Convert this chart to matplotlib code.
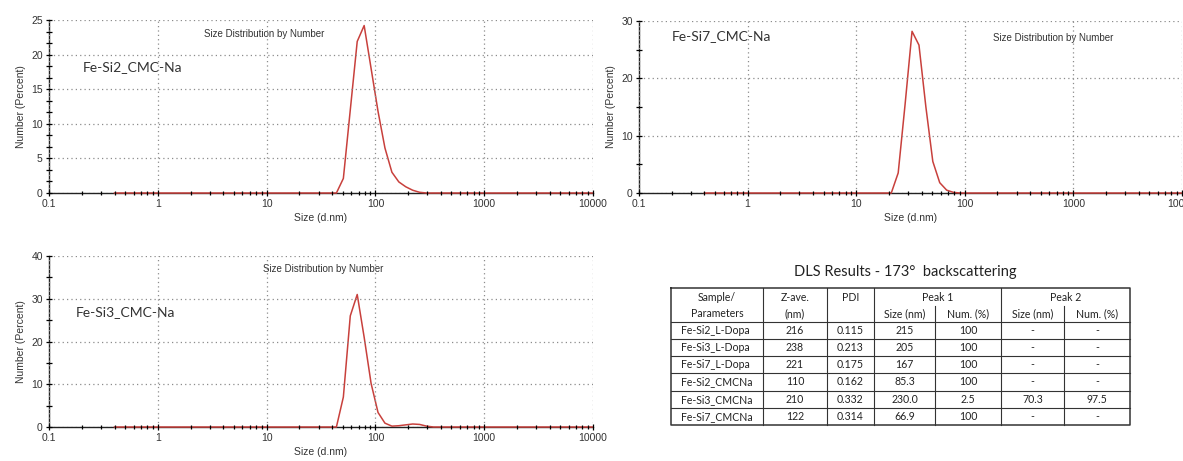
import numpy as np
import matplotlib
matplotlib.use('Agg')
import matplotlib.pyplot as plt
from matplotlib.ticker import LogLocator, NullFormatter, AutoMinorLocator

# size classes (d.nm) and number distribution (%)
si2_size = [0.4, 43.82, 50.75, 58.77, 68.06, 78.82, 91.28, 105.7, 122.4, 141.8,
            164.2, 190.1, 220.2, 255.0, 295.3, 10000]
si2_num = [0, 0, 2.1, 12.0, 21.9, 24.2, 18.0, 11.8, 6.5, 3.0,
           1.6, 0.9, 0.4, 0.1, 0, 0]

si7_size = [0.4, 21.04, 24.36, 28.21, 32.67, 37.84, 43.82, 50.75, 58.77, 68.06,
            78.82, 91.28, 10000]
si7_num = [0, 0, 3.5, 15.5, 28.2, 25.8, 15.0, 5.5, 1.8, 0.5,
           0.1, 0, 0]

si3_size = [0.4, 43.82, 50.75, 58.77, 68.06, 78.82, 91.28, 105.7, 122.4, 141.8,
            164.2, 190.1, 220.2, 255.0, 295.3, 342.0, 10000]
si3_num = [0, 0, 7.0, 26.0, 31.0, 21.0, 10.2, 3.4, 0.9, 0.2,
           0.3, 0.5, 0.7, 0.6, 0.2, 0, 0]

x_ticks = [0.1, 1, 10, 100, 1000, 10000]
x_labels = ['0.1', '1', '10', '100', '1000', '10000']
y_ticks_si2 = [0, 5, 10, 15, 20, 25]
y_ticks_si7 = [0, 10, 20, 30]
y_ticks_si3 = [0, 10, 20, 30, 40]

# DLS results table
tbl_title = 'DLS Results - 173\u00b0  backscattering'
tbl_samples = ['Fe-Si2_L-Dopa', 'Fe-Si3_L-Dopa', 'Fe-Si7_L-Dopa',
               'Fe-Si2_CMCNa', 'Fe-Si3_CMCNa', 'Fe-Si7_CMCNa']
tbl_zave = ['216', '238', '221', '110', '210', '122']
tbl_pdi = ['0.115', '0.213', '0.175', '0.162', '0.332', '0.314']
tbl_p1_size = ['215', '205', '167', '85.3', '230.0', '66.9']
tbl_p1_num = ['100', '100', '100', '100', '2.5', '100']
tbl_p2_size = ['-', '-', '-', '-', '70.3', '-']
tbl_p2_num = ['-', '-', '-', '-', '97.5', '-']

W, H = 1183, 461
RED = '#c8403c'
small = dict(family='Liberation Sans', color='#333333')

fig = plt.figure(figsize=(W / 100, H / 100), dpi=100)


def px_axes(left, top, right, bottom):
    return fig.add_axes([left / W, 1 - bottom / H, (right - left) / W, (bottom - top) / H])


def draw_panel(ax, sizes, nums, yticks, n_minor, sample, sample_pos, title_pos):
    ax.plot(sizes, nums, color=RED, lw=1.1, zorder=3, clip_on=False)
    ax.set_xscale('log')
    ax.set_xlim(0.1, 10000)
    ax.set_ylim(yticks[0], yticks[-1])
    ax.set_xticks(x_ticks)
    ax.set_xticklabels(x_labels, fontsize=7.5, **small)
    ax.xaxis.set_minor_locator(LogLocator(base=10, subs=np.arange(2, 10)))
    ax.xaxis.set_minor_formatter(NullFormatter())
    ax.set_yticks(yticks)
    ax.set_yticklabels([str(v) for v in yticks], fontsize=7.5, **small)
    ax.yaxis.set_minor_locator(AutoMinorLocator(n_minor))
    ax.tick_params(which='major', direction='inout', length=5, width=0.9, color='black', pad=2)
    ax.tick_params(axis='x', which='minor', direction='inout', length=3, width=0.9, color='black')
    ax.tick_params(axis='y', which='minor', direction='inout', length=5, width=0.9, color='black')
    for s in ['top', 'right']:
        ax.spines[s].set_visible(False)
    for s in ['left', 'bottom']:
        ax.spines[s].set_color('#222222')
        ax.spines[s].set_linewidth(1.0)
    ax.grid(True, which='major', color='#8c8c8c', linestyle=(0, (1, 2.5)), lw=0.9)
    ax.xaxis.set_zorder(3.5)
    ax.yaxis.set_zorder(3.5)
    ax.set_xlabel('Size (d.nm)', fontsize=7.5, labelpad=3, **small)
    ax.set_ylabel('Number (Percent)', fontsize=7.5, labelpad=4, **small)
    ax.text(title_pos[0], title_pos[1], 'Size Distribution by Number', transform=ax.transAxes,
            ha='center', va='center', fontsize=7, **small)
    ax.text(sample_pos[0], sample_pos[1], sample, transform=ax.transAxes,
            ha='left', va='center', fontsize=10, family='Lato', color='#333333')


ax1 = px_axes(49, 20, 593, 193)
draw_panel(ax1, si2_size, si2_num, y_ticks_si2, 3, 'Fe-Si2_CMC-Na', (0.062, 0.73), (0.396, 0.92))

ax2 = px_axes(639, 21, 1182, 193)
draw_panel(ax2, si7_size, si7_num, y_ticks_si7, 2, 'Fe-Si7_CMC-Na', (0.061, 0.91), (0.762, 0.90))

ax3 = px_axes(49, 256, 593, 427)
draw_panel(ax3, si3_size, si3_num, y_ticks_si3, 2, 'Fe-Si3_CMC-Na', (0.05, 0.675), (0.504, 0.925))

# table
tax = px_axes(671, 288, 1130, 425)
tax.set_xlim(0, 1)
tax.set_ylim(1, 0)
tax.axis('off')
cols = [0, 0.201, 0.339, 0.442, 0.576, 0.719, 0.857, 1]
head = 0.245
row_h = (1 - head) / len(tbl_samples)
lc = '#333333'
tax.plot([0, 1, 1, 0, 0], [0, 0, 1, 1, 0], color=lc, lw=1.1, clip_on=False)
for i in range(len(tbl_samples)):
    y = head + i * row_h
    tax.plot([0, 1], [y, y], color=lc, lw=0.8, clip_on=False)
for x in cols[1:-1]:
    y0 = 0.13 if x in (0.576, 0.857) else 0
    tax.plot([x, x], [y0, 1], color=lc, lw=0.8, clip_on=False)

tfont = dict(family='Lato', fontsize=7.6, color='#222222', va='center')
mid = lambda a, b: (cols[a] + cols[b]) / 2
l1, l2 = 0.072, 0.185
tax.text(mid(0, 1), l1, 'Sample/', ha='center', **tfont)
tax.text(mid(0, 1), l2, 'Parameters', ha='center', **tfont)
tax.text(mid(1, 2), l1, 'Z-ave.', ha='center', **tfont)
tax.text(mid(1, 2), l2, '(nm)', ha='center', **tfont)
tax.text(mid(2, 3), l1, 'PDI', ha='center', **tfont)
tax.text(mid(3, 5), l1, 'Peak 1', ha='center', **tfont)
tax.text(mid(5, 7), l1, 'Peak 2', ha='center', **tfont)
for a in (3, 5):
    tax.text(mid(a, a + 1), l2, 'Size (nm)', ha='center', **tfont)
    tax.text(mid(a + 1, a + 2), l2, 'Num. (%)', ha='center', **tfont)

columns = [tbl_zave, tbl_pdi, tbl_p1_size, tbl_p1_num, tbl_p2_size, tbl_p2_num]
for i, name in enumerate(tbl_samples):
    y = head + (i + 0.5) * row_h
    tax.text(0.022, y, name, ha='left', **tfont)
    for j, col in enumerate(columns):
        tax.text(mid(j + 1, j + 2), y, col[i], ha='center', **tfont)

fig.text(905 / W, 1 - 272 / H, tbl_title, ha='center', va='center',
         family='Lato', fontsize=10.5, color='#222222')

fig.savefig('out.png', dpi=100, facecolor='white')
